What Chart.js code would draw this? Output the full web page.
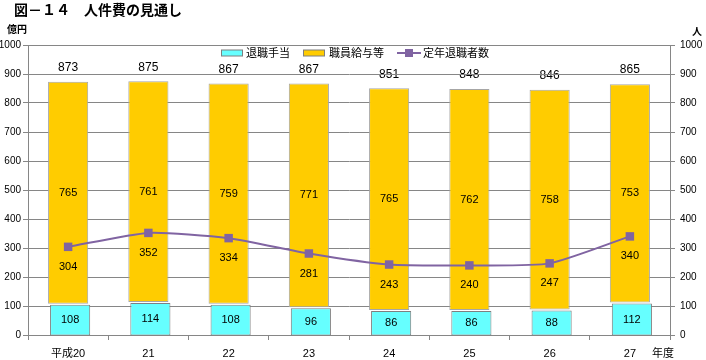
<!DOCTYPE html>
<html>
<head>
<meta charset="utf-8">
<script src="https://cdn.jsdelivr.net/npm/chart.js@4/dist/chart.umd.min.js"></script>
<style>
  html, body { margin: 0; padding: 0; background: #fff; }
  #wrap { position: relative; width: 706px; height: 360px; }
</style>
</head>
<body>
<div id="wrap"><canvas id="chart" width="706" height="360"></canvas></div>
<script>
// --- data ---
const years = ['平成20', '21', '22', '23', '24', '25', '26', '27'];
const retireAllowance = [108, 114, 108, 96, 86, 86, 88, 112];   // 退職手当
const salaries = [765, 761, 759, 771, 765, 762, 758, 753];       // 職員給与等
const totals = [873, 875, 867, 867, 851, 848, 846, 865];
const retirees = [304, 352, 334, 281, 243, 240, 247, 340];       // 定年退職者数
const yTicks = [0, 100, 200, 300, 400, 500, 600, 700, 800, 900, 1000];

const NUM_FONT = '"Liberation Sans", Arial, "Noto Sans CJK JP", sans-serif';
const JP_FONT = '"Noto Sans CJK JP", "Liberation Sans", sans-serif';
const AXIS_GRAY = '#868686';

// labels, legend and titles drawn on the canvas
const labelPlugin = {
    id: 'labels',
    beforeDraw(chart) {
        // totals sit under the grid lines, as in the original
        const ctx = chart.ctx;
        const meta = chart.getDatasetMeta(2);
        ctx.save();
        ctx.font = '12px ' + NUM_FONT;
        ctx.fillStyle = '#000';
        ctx.textAlign = 'center';
        ctx.textBaseline = 'middle';
        meta.data.forEach((bar, i) => {
            ctx.fillText(totals[i], bar.x, bar.y - 14);
        });
        ctx.restore();
    },
    beforeDatasetDraw(chart, args) {
        if (args.index === 1) {
            chart.ctx.save();
            chart.ctx.translate(2, 1);
        }
    },
    afterDatasetDraw(chart, args) {
        if (args.index === 1) chart.ctx.restore();
    },
    afterDraw(chart) {
        const ctx = chart.ctx;
        ctx.save();
        ctx.fillStyle = '#000';
        ctx.textAlign = 'center';
        ctx.textBaseline = 'middle';

        // segment labels
        ctx.font = '11px ' + NUM_FONT;
        chart.getDatasetMeta(1).data.forEach((bar, i) => {
            ctx.fillText(retireAllowance[i], bar.x + 2, (bar.y + bar.base) / 2 + 1);
        });
        chart.getDatasetMeta(2).data.forEach((bar, i) => {
            ctx.fillText(salaries[i], bar.x, (bar.y + bar.base) / 2);
        });
        // line labels below points
        chart.getDatasetMeta(0).data.forEach((pt, i) => {
            ctx.fillText(retirees[i], pt.x, pt.y + 20);
        });

        // title and units
        ctx.textAlign = 'left';
        ctx.font = 'bold 14px ' + JP_FONT;
        ctx.fillText('図－１４　人件費の見通し', 14, 10);
        ctx.font = 'bold 10px ' + JP_FONT;
        ctx.fillText('億円', 7, 29);
        ctx.fillText('人', 692, 31);
        ctx.font = '11px ' + JP_FONT;
        ctx.fillText('年度', 652, 353);

        // legend
        const ly = 53;
        ctx.font = '11px ' + JP_FONT;
        ctx.lineWidth = 1;
        ctx.strokeStyle = '#7F7F7F';
        ctx.fillStyle = '#66FFFF';
        ctx.fillRect(221.5, ly - 3, 21, 6);
        ctx.strokeRect(221.5, ly - 3, 21, 6);
        ctx.fillStyle = '#FFCC00';
        ctx.fillRect(303.5, ly - 3, 21, 6);
        ctx.strokeRect(303.5, ly - 3, 21, 6);
        ctx.strokeStyle = '#8064A2';
        ctx.lineWidth = 2;
        ctx.beginPath();
        ctx.moveTo(397, ly);
        ctx.lineTo(421, ly);
        ctx.stroke();
        ctx.fillStyle = '#8064A2';
        ctx.fillRect(405, ly - 4, 8, 8);
        ctx.fillStyle = '#000';
        ctx.fillText('退職手当', 246, ly);
        ctx.fillText('職員給与等', 329, ly);
        ctx.fillText('定年退職者数', 423, ly);
        ctx.restore();
    }
};

const plainTick = v => String(v);

new Chart(document.getElementById('chart'), {
    type: 'bar',
    data: {
        labels: years,
        datasets: [
            {
                type: 'line',
                label: '定年退職者数',
                data: retirees,
                yAxisID: 'y2',
                borderColor: '#8064A2',
                backgroundColor: '#8064A2',
                borderWidth: 2,
                pointStyle: 'rect',
                pointRadius: 6,
                pointBorderWidth: 0,
                tension: 0.2,
                order: 0
            },
            {
                label: '退職手当',
                data: retireAllowance,
                backgroundColor: '#66FFFF',
                borderColor: '#7F7F7F',
                borderWidth: 1,
                borderSkipped: false,
                stack: 's',
                order: 1
            },
            {
                label: '職員給与等',
                data: salaries,
                backgroundColor: '#FFCC00',
                borderColor: '#A6A6A6',
                borderWidth: 1,
                borderSkipped: false,
                stack: 's',
                order: 1
            }
        ]
    },
    options: {
        responsive: false,
        animation: false,
        layout: { padding: { top: 45, left: 0, right: 0, bottom: 0 } },
        datasets: { bar: { barPercentage: 0.5, categoryPercentage: 1 } },
        plugins: { legend: { display: false }, tooltip: { enabled: false } },
        scales: {
            x: {
                stacked: true,
                afterFit: s => { s.height = 25; },
                border: { color: AXIS_GRAY },
                grid: { drawOnChartArea: false, tickLength: 5, color: AXIS_GRAY },
                ticks: { color: '#000', padding: 7, font: { size: 11, family: NUM_FONT } }
            },
            y: {
                stacked: true,
                min: 0,
                max: 1000,
                afterFit: s => { s.width = 28; },
                afterBuildTicks: s => { s.ticks = yTicks.map(v => ({ value: v })); },
                border: { color: AXIS_GRAY },
                grid: { color: AXIS_GRAY, tickLength: 5 },
                ticks: { color: '#000', padding: 2, callback: plainTick, font: { size: 10, family: NUM_FONT } }
            },
            y2: {
                position: 'right',
                min: 0,
                max: 1000,
                afterFit: s => { s.width = 36; },
                afterBuildTicks: s => { s.ticks = yTicks.map(v => ({ value: v })); },
                border: { color: AXIS_GRAY },
                grid: { drawOnChartArea: false, color: AXIS_GRAY, tickLength: 5 },
                ticks: { color: '#000', padding: 5, callback: plainTick, font: { size: 10, family: NUM_FONT } }
            }
        }
    },
    plugins: [labelPlugin]
});
</script>
</body>
</html>
